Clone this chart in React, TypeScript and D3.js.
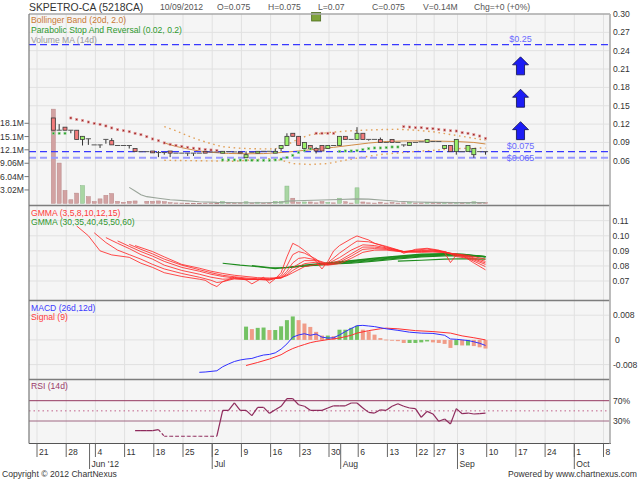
import React from "react";
import * as d3 from "d3";

// ---------- calendar (axis scaffolding) ----------
const HOLIDAYS = ["2012-08-20", "2012-08-21", "2012-08-31"];
const fmt = d3.timeFormat("%Y-%m-%d");
const CALENDAR: string[] = d3.timeDay
  .range(new Date(2012, 4, 17), new Date(2012, 9, 10))
  .filter((d) => d.getDay() !== 0 && d.getDay() !== 6 && !HOLIDAYS.includes(fmt(d)))
  .map(fmt);
const ORIGIN = CALENDAR.indexOf("2012-05-21");
const idx = (s: string) => CALENDAR.indexOf(s) - ORIGIN;

// ---------- price data (from 2012-05-24) ----------
const FIRST_DAY = "2012-05-24";
const openP = [
  0.13, 0.11, 0.115, 0.11, 0.11, 0.095, 0.096, 0.086, 0.086, 0.095,
  0.093, 0.085, 0.085, 0.085, 0.08, 0.075, 0.075, 0.076, 0.0735, 0.0735,
  0.076, 0.0725, 0.0725, 0.0725, 0.0725, 0.0725, 0.0755, 0.0745, 0.0745, 0.0725,
  0.075, 0.0745, 0.0745, 0.065, 0.074, 0.0725, 0.0755, 0.0755, 0.0725, 0.08,
  0.085, 0.105, 0.1, 0.08, 0.085, 0.08, 0.085, 0.08, 0.085, 0.085,
  0.1, 0.095, 0.095, 0.105, 0.095, 0.095, 0.095, 0.09, 0.095, 0.09,
  0.086, 0.085, 0.09, 0.091, 0.09, 0.0915, 0.0915, 0.08, 0.085, 0.075,
  0.075, 0.075, 0.07, 0.075, 0.075,
];
const highP = [
  0.13, 0.12, 0.115, 0.11, 0.11, 0.1, 0.096, 0.086, 0.086, 0.095,
  0.097, 0.085, 0.085, 0.085, 0.08, 0.075, 0.075, 0.076, 0.076, 0.0735,
  0.076, 0.0725, 0.0725, 0.0725, 0.0725, 0.0725, 0.0755, 0.0745, 0.0745, 0.0755,
  0.075, 0.0745, 0.0745, 0.0755, 0.074, 0.0755, 0.0755, 0.0755, 0.08, 0.085,
  0.105, 0.105, 0.1, 0.09, 0.085, 0.082, 0.085, 0.085, 0.085, 0.1,
  0.1, 0.095, 0.115, 0.105, 0.095, 0.095, 0.098, 0.09, 0.095, 0.09,
  0.086, 0.09, 0.09, 0.091, 0.095, 0.0915, 0.0915, 0.085, 0.085, 0.095,
  0.075, 0.085, 0.08, 0.075, 0.075,
];
const lowP = [
  0.11, 0.11, 0.11, 0.105, 0.095, 0.085, 0.086, 0.086, 0.081, 0.088,
  0.086, 0.085, 0.085, 0.08, 0.075, 0.075, 0.075, 0.073, 0.066, 0.07,
  0.066, 0.0725, 0.0725, 0.068, 0.068, 0.0725, 0.0725, 0.0745, 0.0745, 0.0725,
  0.075, 0.0745, 0.0725, 0.065, 0.074, 0.0725, 0.0755, 0.0755, 0.0725, 0.075,
  0.085, 0.1, 0.085, 0.08, 0.08, 0.072, 0.076, 0.08, 0.085, 0.085,
  0.095, 0.095, 0.095, 0.095, 0.093, 0.095, 0.09, 0.09, 0.09, 0.09,
  0.083, 0.085, 0.09, 0.091, 0.09, 0.0915, 0.0915, 0.08, 0.075, 0.07,
  0.075, 0.075, 0.065, 0.075, 0.07,
];
const closeP = [
  0.11, 0.11, 0.11, 0.11, 0.095, 0.1, 0.096, 0.086, 0.086, 0.095,
  0.086, 0.085, 0.085, 0.085, 0.075, 0.075, 0.075, 0.073, 0.0735, 0.0735,
  0.0725, 0.0725, 0.0725, 0.0725, 0.0725, 0.0725, 0.0725, 0.0745, 0.0745, 0.0755,
  0.075, 0.0745, 0.0725, 0.07, 0.074, 0.0755, 0.0755, 0.0755, 0.0755, 0.085,
  0.1, 0.1, 0.085, 0.09, 0.08, 0.076, 0.076, 0.085, 0.085, 0.1,
  0.095, 0.095, 0.105, 0.095, 0.095, 0.095, 0.09, 0.09, 0.09, 0.09,
  0.086, 0.09, 0.09, 0.091, 0.095, 0.0915, 0.0915, 0.085, 0.075, 0.095,
  0.075, 0.085, 0.08, 0.075, 0.075,
];
const volumeM = [
  21.3, 9.1, 2.9, 0.8, 2.3, 4.0, 1.5, 0.4, 1.0, 1.8,
  2.2, 0.45, 0.23, 0.45, 0.53, 0.0, 0.45, 0.45, 0.53, 0.38,
  0.15, 0.08, 0.05, 0.03, 0.02, 0.02, 0.05, 0.05, 0.02, 0.4,
  0.05, 0.05, 0.1, 0.35, 0.05, 0.25, 0.05, 0.05, 0.45, 0.45,
  3.9, 1.15, 0.2, 0.3, 0.3, 0.1, 0.4, 0.2, 0.1, 1.15,
  0.35, 0.05, 3.5, 0.3, 0.1, 0.05, 0.25, 0.05, 0.2, 0.05,
  0.1, 0.2, 0.05, 0.05, 0.15, 0.05, 0.05, 0.1, 0.15, 0.2,
  0.05, 0.1, 0.35, 0.05, 0.14,
];
// Parabolic SAR per day (same dates as candles)
const sarP = [
  0.105, 0.105, 0.105, 0.13, 0.1277, 0.126, 0.1234, 0.1212, 0.1196, 0.117,
  0.1137, 0.1109, 0.1093, 0.1076, 0.1049, 0.1027, 0.0994, 0.0957, 0.0929, 0.0892,
  0.0869, 0.0852, 0.0836, 0.082, 0.0806, 0.0795, 0.0785, 0.0777, 0.077, 0.0614,
  0.0614, 0.0614, 0.0612, 0.061, 0.061, 0.0608, 0.0608, 0.0608, 0.0614, 0.0628,
  0.0655, 0.069, 0.0735, 0.077, 0.0795, 0.105, 0.105, 0.105, 0.105, 0.0755,
  0.0761, 0.0761, 0.0766, 0.0783, 0.0799, 0.081, 0.081, 0.0815, 0.0826, 0.0826,
  0.1158, 0.1152, 0.1141, 0.1141, 0.113, 0.1125, 0.1114, 0.1103, 0.1092, 0.1087,
  0.106, 0.1049, 0.1027, 0.1005, 0.0967,
];

// Bollinger bands [trading day index from 21 May, value]
const bbUpper = [[22,0.1158],[24,0.109],[26,0.101],[28,0.094],[30,0.088],[32,0.083],[35,0.0805],[38,0.0795],[41,0.0795],[43,0.086],[45,0.096],[47,0.1025],[50,0.106],[53,0.1085],[56,0.11],[59,0.111],[62,0.1115],[65,0.11],[68,0.1075],[71,0.103],[74,0.0985],[77,0.0935]];
const bbMiddle = [[22,0.0892],[24,0.0835],[26,0.0795],[28,0.076],[30,0.0738],[33,0.072],[36,0.0715],[39,0.0718],[42,0.0735],[45,0.0761],[48,0.079],[51,0.082],[54,0.0855],[57,0.089],[60,0.0915],[63,0.0924],[66,0.0925],[69,0.0922],[72,0.0915],[75,0.09],[77,0.0875]];
const bbLower = [[22,0.0608],[26,0.0603],[30,0.0598],[34,0.0592],[37,0.0615],[40,0.0635],[42,0.061],[44,0.0555],[47,0.054],[50,0.0555],[53,0.061],[56,0.066],[59,0.0703],[62,0.0728],[65,0.0752],[68,0.0771],[71,0.0793],[74,0.0805],[77,0.081]];
const volumeMA = [[16,3.6],[17,2.8],[18,1.95],[19,1.5],[21,1.15],[23,0.8],[26,0.55],[28,0.36],[31,0.2],[35,0.12],[39,0.12],[42,0.25],[43,0.5],[46,0.65],[49,0.75],[52,0.85],[55,1.0],[57,0.95],[59,0.75],[62,0.45],[65,0.3],[68,0.22],[72,0.16],[77,0.15]];

// price targets and signals
const targetPrices = [0.25, 0.075, 0.065];
const targetLabels = ["$0.25", "$0.075", "$0.065"];
const arrowDate = "2012-09-18";
const arrowTips = [0.23, 0.177, 0.124];
const markerDate = "2012-07-26";

// GMMA short (red)
const gmma3 = [[7,0.1065],[9,0.1],[11,0.09],[13,0.0873],[16,0.0857],[18,0.0818],[20,0.079],[22,0.0755],[25,0.073],[28,0.0712],[29,0.0705],[30,0.068],[31,0.0663],[32,0.0696],[34,0.0725],[36,0.0707],[37,0.0681],[39,0.0725],[40,0.0685],[41,0.0715],[42,0.0755],[43,0.086],[44,0.095],[45,0.093],[46,0.0902],[47,0.087],[48,0.0829],[49,0.078],[50,0.083],[51,0.09],[52,0.0935],[54,0.098],[55,0.0999],[56,0.0985],[57,0.0972],[58,0.095],[60,0.0925],[62,0.0905],[63,0.0884],[65,0.091],[67,0.0917],[69,0.0905],[70,0.0888],[71,0.0822],[72,0.0873],[73,0.087],[75,0.082],[77,0.0774]];
const gmma5 = [[10,0.102],[12,0.0955],[14,0.0905],[16,0.0875],[18,0.0845],[20,0.081],[22,0.078],[25,0.075],[28,0.0725],[30,0.0705],[31,0.069],[32,0.0695],[34,0.0715],[36,0.071],[38,0.071],[40,0.0705],[42,0.0735],[43,0.08],[44,0.0875],[45,0.0895],[46,0.0885],[48,0.0845],[49,0.081],[50,0.082],[52,0.0885],[54,0.094],[55,0.0965],[57,0.096],[60,0.093],[63,0.0895],[65,0.0905],[67,0.0912],[70,0.0895],[72,0.0862],[74,0.085],[77,0.0795]];
const gmma8 = [[12,0.0988],[14,0.095],[16,0.0915],[18,0.0875],[20,0.0845],[22,0.0805],[25,0.077],[28,0.0745],[30,0.0725],[32,0.0712],[34,0.0715],[36,0.071],[38,0.071],[40,0.071],[42,0.0725],[43,0.0765],[44,0.082],[45,0.085],[46,0.0855],[48,0.084],[50,0.0815],[52,0.0855],[54,0.0905],[56,0.094],[58,0.0935],[60,0.092],[63,0.0895],[66,0.0902],[68,0.0905],[70,0.0895],[72,0.087],[74,0.0855],[77,0.081]];
const gmma10 = [[14,0.0966],[16,0.093],[18,0.0895],[20,0.0865],[22,0.083],[25,0.079],[28,0.0765],[30,0.0745],[32,0.073],[34,0.072],[36,0.0715],[38,0.0712],[40,0.0712],[42,0.072],[43,0.075],[44,0.079],[46,0.0835],[48,0.0835],[50,0.081],[52,0.0835],[54,0.088],[56,0.0925],[58,0.0925],[60,0.0915],[63,0.0895],[66,0.0898],[68,0.09],[70,0.0893],[72,0.0875],[74,0.086],[77,0.082]];
const gmma12 = [[16,0.0943],[18,0.091],[20,0.088],[22,0.0845],[25,0.0805],[28,0.0775],[30,0.0755],[32,0.0738],[34,0.0728],[36,0.072],[38,0.0715],[40,0.0715],[42,0.072],[43,0.074],[44,0.077],[46,0.0815],[48,0.0825],[50,0.0808],[52,0.0825],[54,0.0865],[56,0.091],[58,0.0915],[60,0.091],[63,0.0893],[66,0.0895],[68,0.0897],[70,0.089],[72,0.0878],[74,0.0865],[77,0.083]];
const gmma15 = [[17,0.0935],[20,0.0895],[22,0.086],[25,0.081],[28,0.0785],[30,0.0765],[32,0.075],[34,0.0738],[36,0.073],[38,0.0722],[40,0.072],[42,0.0722],[43,0.0735],[44,0.0755],[46,0.0795],[48,0.081],[50,0.0805],[52,0.0815],[54,0.085],[56,0.089],[58,0.0905],[60,0.0905],[63,0.0892],[66,0.089],[68,0.0892],[70,0.0888],[72,0.088],[74,0.087],[77,0.0845]];
// GMMA long (green)
const gmma30 = [[32,0.0818],[35,0.0805],[38,0.0795],[41,0.0782],[43,0.079],[46,0.0805],[50,0.082],[54,0.0835],[58,0.0852],[62,0.0865],[66,0.0878],[70,0.0882],[73,0.0878],[77,0.0862]];
const gmma35 = [[37,0.0802],[40,0.079],[43,0.0788],[46,0.08],[50,0.0815],[54,0.0832],[58,0.0848],[62,0.0862],[66,0.0874],[70,0.0878],[73,0.0876],[77,0.0862]];
const gmma40 = [[42,0.0788],[46,0.0798],[50,0.0812],[54,0.0828],[58,0.0843],[62,0.0857],[66,0.087],[70,0.0875],[73,0.0874],[77,0.0862]];
const gmma45 = [[47,0.0805],[50,0.081],[54,0.0823],[58,0.0838],[62,0.0852],[66,0.0865],[70,0.0871],[73,0.0871],[77,0.0861]];
const gmma50 = [[52,0.0815],[54,0.0818],[58,0.0832],[62,0.0846],[66,0.086],[70,0.0866],[73,0.0868],[77,0.086]];
const gmma60 = [[62,0.0832],[66,0.0838],[70,0.0845],[73,0.0848],[77,0.0845]];

// MACD
const macdLine = [[28,-0.0105],[29,-0.0104],[30,-0.0102],[31,-0.01],[32,-0.0087],[33,-0.0078],[34,-0.007],[35,-0.0065],[36,-0.0062],[37,-0.006],[38,-0.0054],[39,-0.0049],[40,-0.0047],[41,-0.0042],[42,-0.003],[43,-0.0013],[44,0.0009],[45,0.0016],[46,0.002],[47,0.0015],[48,0.0019],[49,0.0009],[50,0.0006],[51,0.0007],[52,0.0016],[53,0.0027],[54,0.0037],[55,0.0046],[56,0.0047],[57,0.0045],[58,0.0043],[60,0.0036],[62,0.0031],[64,0.0025],[66,0.0022],[68,0.0021],[70,0.0015],[71,0.0003],[72,0.0002],[73,0],[74,-0.0002],[75,-0.0006],[76,-0.0011],[77,-0.0018]];
const signalLine = [[36,-0.0083],[38,-0.0073],[40,-0.0062],[42,-0.0048],[43,-0.0037],[44,-0.0028],[45,-0.0021],[46,-0.0015],[47,-0.0009],[48,-0.0005],[49,-0.0002],[50,0.0001],[52,0.0006],[54,0.0015],[55,0.0022],[57,0.003],[59,0.0036],[60,0.0038],[62,0.0036],[65,0.003],[68,0.0027],[71,0.0022],[73,0.0013],[75,0.0007],[77,0]];
const HIST_START = 36;
const macdHist = [
  0.0043, 0.0035, 0.0039, 0.004, 0.0032, 0.0032, 0.0044, 0.0064, 0.0076, 0.0064,
  0.0053, 0.0042, 0.0026, 0.0014, 0.0014, 0.0012, 0.0033, 0.0033, 0.0039, 0.0046,
  0.0033, 0.0028, 0.0017, 0.0006, 0.0001, -0.0002, -0.0004, -0.001, -0.001, -0.001,
  -0.0008, -0.0005, -0.0008, -0.001, -0.0013, -0.0026, -0.0017, -0.0018, -0.0018, -0.002,
  -0.0024, -0.0028,
];

// RSI (14d), from day index 17
const RSI_START = 17;
const rsi = [
  10.9, 10.9, 10.9, 10.9, 12.9, 0, 0, 0, 0, 0,
  0, 0, 0, 0, 0, 51, 51, 65.5, 51, 51,
  40.5, 57, 57, 45, 52, 59, 74, 74, 62, 59,
  51, 51, 51, 55.6, 60, 60, 60, 65.5, 65.5, 55.6,
  47, 45.7, 52, 51, 59, 64, 59, 55.6, 54.4, 37.3,
  49, 43.8, 29.4, 34, 24, 54.4, 44.4, 45.7, 43.8, 44.5,
  45.7,
];

// axis ticks
const dayTicks = ["2012-05-21","2012-05-28","2012-06-04","2012-06-11","2012-06-18","2012-06-25","2012-07-02","2012-07-09","2012-07-16","2012-07-23","2012-07-30","2012-08-06","2012-08-13","2012-08-22","2012-08-27","2012-09-03","2012-09-10","2012-09-17","2012-09-24","2012-10-01","2012-10-08"];
const monthTicks = ["2012-06-01","2012-07-02","2012-08-01","2012-09-03","2012-10-01"];
const monthLabels = ["Jun '12","Jul","Aug","Sep","Oct"];
const priceTicks = [0.3, 0.27, 0.24, 0.21, 0.18, 0.15, 0.12, 0.09, 0.06];
const volTicks = [3.02, 6.04, 9.06, 12.1, 15.1, 18.1];
const volTickLabels = ["3.02M", "6.04M", "9.06M", "12.1M", "15.1M", "18.1M"];
const gmmaTicks = [0.11, 0.1, 0.09, 0.08, 0.07];
const macdTicks = [0.008, 0, -0.008];
const macdTickLabels = ["0.008", "0", "-0.008"];
const headerItems = ["10/09/2012", "O=0.075", "H=0.075", "L=0.07", "C=0.075", "V=0.14M", "Chg=+0 (+0%)"];

const FONT = "'Liberation Sans', Arial, Helvetica, sans-serif";

export default function App() {
  const L = 29, R = 610;
  const P = { mainT: 14, mainB: 205.5, gB: 300.5, mB: 379.5, rB: 443.5 };
  const x = d3.scaleLinear().domain([0, 77]).range([35.8, 485.5]);
  const yP = d3.scaleLinear().domain([0.06, 0.3]).range([160.8, 14]);
  const yV = d3.scaleLinear().domain([0, 18.12]).range([203.3, 123.2]);
  const yG = d3.scaleLinear().domain([0.07, 0.11]).range([281, 220.7]);
  const yM = d3.scaleLinear().domain([-0.008, 0.008]).range([364.6, 315.2]);
  const yR = d3.scaleLinear().domain([30, 70]).range([421, 400.7]);

  const first = idx(FIRST_DAY);
  const tickX = (d: string) => x(idx(d)) + 1.2;

  const mk = (ys: d3.ScaleLinear<number, number>) =>
    d3.line<number[]>().x((d) => x(d[0])).y((d) => ys(d[1]));
  const lineP = mk(yP), lineV = mk(yV), lineG = mk(yG), lineM = mk(yM);

  const gridV = (t: number, b: number, key: string) =>
    dayTicks.map((d) => (
      <line key={key + d} x1={tickX(d)} x2={tickX(d)} y1={t} y2={b} stroke="#e1e1e1" strokeWidth={1} />
    ));

  const redG = [gmma3, gmma5, gmma8, gmma10, gmma12, gmma15];
  const greenG = [gmma30, gmma35, gmma40, gmma45, gmma50, gmma60];

  const rsiPts = rsi.map((v, k) => [RSI_START + k, v]);
  const ax = x(idx(arrowDate));
  const mx = x(idx(markerDate));

  return (
    <svg width={640} height={480} style={{ position: "absolute", left: 0, top: 0, background: "#fff" }} fontFamily={FONT}>
      <defs>
        <clipPath id="cMain"><rect x={L} y={P.mainT} width={R - L} height={P.mainB - P.mainT} /></clipPath>
        <clipPath id="cG"><rect x={L} y={P.mainB} width={R - L} height={P.gB - P.mainB} /></clipPath>
        <clipPath id="cM"><rect x={L} y={P.gB} width={R - L} height={P.mB - P.gB} /></clipPath>
        <clipPath id="cR"><rect x={L} y={P.mB} width={R - L} height={P.rB - P.mB} /></clipPath>
      </defs>

      {/* panel backgrounds */}
      <rect x={L} y={P.mainT} width={R - L} height={P.rB - P.mainT} fill="#f5f5f5" />

      {/* grids */}
      {gridV(P.mainT, P.mainB, "m")}
      {gridV(P.mainB, P.gB, "g")}
      {gridV(P.gB, P.mB, "c")}
      {gridV(P.mB, P.rB, "r")}
      {priceTicks.slice(1).map((p) => (
        <line key={"hp" + p} x1={L} x2={R} y1={yP(p)} y2={yP(p)} stroke="#e1e1e1" />
      ))}
      {gmmaTicks.map((p) => (
        <line key={"hg" + p} x1={L} x2={R} y1={yG(p)} y2={yG(p)} stroke="#e1e1e1" />
      ))}
      {macdTicks.map((p) => (
        <line key={"hm" + p} x1={L} x2={R} y1={yM(p)} y2={yM(p)} stroke="#e1e1e1" />
      ))}

      {/* ---------- main panel ---------- */}
      <g clipPath="url(#cMain)">
        {volumeM.map((v, k) => {
          const cx = x(first + k);
          const up = closeP[k] > openP[k];
          if (v <= 0) return null;
          return (
            <rect key={"v" + k} x={cx - 2} y={yV(v)} width={4} height={Math.max(0.6, yV(0) - yV(v))}
              fill={up ? "#a9d6a3" : "#d2a2a2"} stroke={up ? "#86b886" : "#b98585"} strokeWidth={0.5} />
          );
        })}
        <path d={lineV(volumeMA) || ""} fill="none" stroke="#9aa59a" strokeWidth={1.1} />

        <path d={lineP(bbUpper) || ""} fill="none" stroke="#e2a15a" strokeWidth={1.4} strokeDasharray="1.6 3.6" />
        <path d={lineP(bbLower) || ""} fill="none" stroke="#e2a15a" strokeWidth={1.4} strokeDasharray="1.6 3.6" />
        <path d={lineP(bbMiddle) || ""} fill="none" stroke="#d08b45" strokeWidth={1} />

        {targetPrices.map((p, k) => (
          <line key={"t" + k} x1={L} x2={R} y1={yP(p)} y2={yP(p)}
            stroke={k === 2 ? "#9a9aff" : "#3838ff"} strokeWidth={k === 2 ? 2.2 : 1.3} strokeDasharray="7 4" />
        ))}

        {openP.map((o, k) => {
          const cx = x(first + k);
          const c = closeP[k];
          const up = c > o, down = c < o;
          const top = yP(Math.max(o, c));
          const h = Math.abs(yP(o) - yP(c));
          return (
            <g key={"c" + k}>
              <line x1={cx} x2={cx} y1={yP(highP[k])} y2={yP(lowP[k])} stroke="#333" strokeWidth={1} />
              {up || down ? (
                <rect x={cx - 2} y={top} width={4} height={Math.max(1, h)}
                  fill={up ? "#9cf06a" : "#f47c7c"} stroke="#3a3a3a" strokeWidth={0.8} />
              ) : (
                <line x1={cx - 2.6} x2={cx + 2.6} y1={yP(c)} y2={yP(c)} stroke="#555" strokeWidth={1} />
              )}
            </g>
          );
        })}

        {sarP.map((s, k) => {
          const cx = x(first + k);
          const above = s > closeP[k];
          return (
            <rect key={"s" + k} x={cx - 1.1} y={yP(s) - 1.1} width={2.2} height={2.2}
              fill={above ? "#a02828" : "#1f9a1f"} stroke={above ? "#e8a8a8" : "#9fd89f"} strokeWidth={0.6} />
          );
        })}

        {arrowTips.map((p, k) => {
          const ty = yP(p);
          const d = `M${ax},${ty} L${ax + 8},${ty + 8} L${ax + 4},${ty + 8} L${ax + 4},${ty + 18} L${ax - 4},${ty + 18} L${ax - 4},${ty + 8} L${ax - 8},${ty + 8} Z`;
          return <path key={"a" + k} d={d} fill="#1c1cf5" stroke="#10104a" strokeWidth={0.8} />;
        })}
      </g>
      <rect x={mx - 4.5} y={12.5} width={9} height={8.5} fill="#7fa33a" stroke="#4d6b1f" strokeWidth={0.8} />

      {targetLabels.map((t, k) => (
        <text key={"tl" + k} x={ax} y={yP(targetPrices[k]) - (k === 2 ? -3.5 : 2.5)} textAnchor="middle"
          fontSize={9} fill="#6a6aff">{t}</text>
      ))}

      <text x={31} y={23} fontSize={8.6} fill="#c97a35">Bollinger Band (20d, 2.0)</text>
      <text x={31} y={33} fontSize={8.6} fill="#2f9a2f">Parabolic Stop And Reversal (0.02, 0.2)</text>
      <text x={31} y={42.8} fontSize={8.6} fill="#9a9a9a">Volume MA (14d)</text>

      {/* ---------- GMMA ---------- */}
      <g clipPath="url(#cG)">
        {greenG.map((s, k) => (
          <path key={"gg" + k} d={lineG(s) || ""} fill="none" stroke="#1e8c1e" strokeWidth={1.1} />
        ))}
        {redG.map((s, k) => (
          <path key={"rg" + k} d={lineG(s) || ""} fill="none" stroke="#ff2a2a" strokeWidth={0.85} />
        ))}
      </g>
      <text x={31} y={215.5} fontSize={8.6} fill="#ff3b3b">GMMA (3,5,8,10,12,15)</text>
      <text x={31} y={225} fontSize={8.6} fill="#2f962f">GMMA (30,35,40,45,50,60)</text>

      {/* ---------- MACD ---------- */}
      <g clipPath="url(#cM)">
        {macdHist.map((v, k) => {
          const cx = x(HIST_START + k);
          const rising = k === 0 || v >= macdHist[k - 1];
          const y0 = yM(0), y1 = yM(v);
          return (
            <rect key={"h" + k} x={cx - 2} y={Math.min(y0, y1)} width={4} height={Math.max(0.8, Math.abs(y1 - y0))}
              fill={rising ? "#74c264" : "#f09c88"} />
          );
        })}
        <path d={lineM(signalLine) || ""} fill="none" stroke="#ff3030" strokeWidth={1} />
        <path d={lineM(macdLine) || ""} fill="none" stroke="#2f2fff" strokeWidth={1} />
      </g>
      <text x={31} y={310.5} fontSize={8.6} fill="#3a3aff">MACD (26d,12d)</text>
      <text x={31} y={320} fontSize={8.6} fill="#ff3b3b">Signal (9)</text>

      {/* ---------- RSI ---------- */}
      <line x1={L} x2={R} y1={yR(70)} y2={yR(70)} stroke="#94375f" strokeWidth={1} />
      <line x1={L} x2={R} y1={yR(30)} y2={yR(30)} stroke="#a06883" strokeWidth={1} />
      <line x1={L} x2={R} y1={yR(50)} y2={yR(50)} stroke="#c0608a" strokeWidth={1} strokeDasharray="1.5 3" />
      <g clipPath="url(#cR)">
        {rsiPts.slice(1).map((p, k) => {
          const a = rsiPts[k];
          return (
            <line key={"rs" + k} x1={x(a[0])} y1={yR(a[1])} x2={x(p[0])} y2={yR(p[1])}
              stroke="#8e2a5c" strokeWidth={1.2} strokeDasharray={p[1] === 0 ? "3 2" : undefined} />
          );
        })}
      </g>
      <text x={31} y={388.5} fontSize={8.6} fill="#9a3a6a">RSI (14d)</text>

      {/* panel borders */}
      {[P.mainT, P.mainB, P.gB, P.mB].map((yy, k) => (
        <line key={"b" + k} x1={L} x2={R} y1={yy} y2={yy} stroke={k === 0 ? "#a8a8a8" : "#7d7d7d"} strokeWidth={1.3} />
      ))}
      <line x1={L} x2={R + 1} y1={P.rB} y2={P.rB} stroke="#555" strokeWidth={1.2} />
      <line x1={L} x2={L} y1={P.mainT} y2={P.rB} stroke="#777" strokeWidth={1.2} />
      <line x1={R} x2={R} y1={P.mainT} y2={P.rB} stroke="#b5b5b5" strokeWidth={1.8} />

      {/* right axis labels */}
      {priceTicks.map((p) => (
        <text key={"pl" + p} x={613} y={yP(p) + 3} fontSize={8.6} fill="#333">{p.toFixed(2)}</text>
      ))}
      {gmmaTicks.map((p) => (
        <text key={"gl" + p} x={612.5} y={yG(p) + 3} fontSize={8.6} fill="#333">{p.toFixed(2)}</text>
      ))}
      {macdTicks.map((p, k) => (
        <text key={"ml" + k} x={k === 1 ? 615 : 613} y={yM(p) + 3} fontSize={8.6} fill="#333">{macdTickLabels[k]}</text>
      ))}
      <text x={613} y={yR(70) + 3} fontSize={8.6} fill="#333">70%</text>
      <text x={613} y={yR(30) + 3} fontSize={8.6} fill="#333">30%</text>

      {/* left volume axis */}
      {volTicks.map((v, k) => (
        <g key={"vt" + k}>
          <line x1={24.5} x2={L} y1={yV(v)} y2={yV(v)} stroke="#777" />
          <text x={24} y={yV(v) + 3} fontSize={8.6} fill="#333" textAnchor="end">{volTickLabels[k]}</text>
        </g>
      ))}

      {/* date axis */}
      {dayTicks.map((d) => (
        <g key={"dt" + d}>
          <line x1={tickX(d)} x2={tickX(d)} y1={P.rB} y2={457} stroke="#666" />
          <text x={tickX(d) + 2} y={455} fontSize={8.6} fill="#333">{String(+d.slice(8))}</text>
        </g>
      ))}
      {monthTicks.map((d, k) => (
        <g key={"mt" + d}>
          <line x1={tickX(d)} x2={tickX(d)} y1={P.rB} y2={469} stroke="#666" />
          <text x={tickX(d) + 2} y={466.5} fontSize={8.6} fill="#333">{monthLabels[k]}</text>
        </g>
      ))}

      {/* header */}
      <text x={29} y={10.5} fontSize={10.4} fill="#333">SKPETRO-CA (5218CA)</text>
      {headerItems.map((t, k) => (
        <text key={"hd" + k} x={[160, 217, 268, 318, 372, 423, 474][k]} y={10} fontSize={8.6} fill="#555">{t}</text>
      ))}

      {/* footer */}
      <text x={2} y={477} fontSize={8.6} fill="#333">Copyright © 2012 ChartNexus</text>
      <text x={637} y={477} fontSize={8.6} fill="#333" textAnchor="end">Powered by www.chartnexus.com</text>
    </svg>
  );
}
